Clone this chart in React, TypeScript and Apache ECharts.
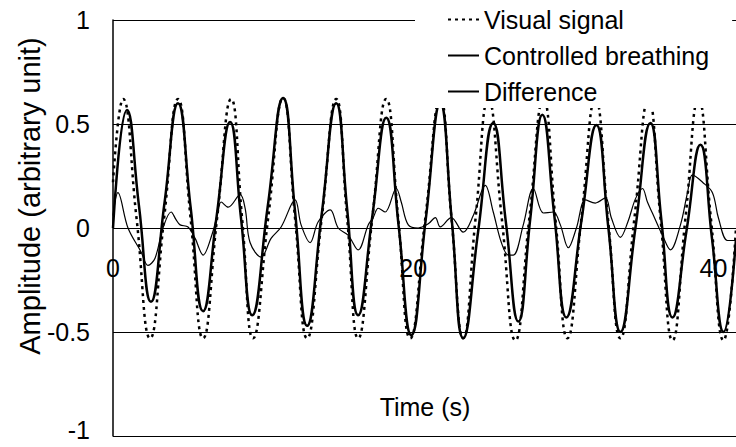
import React, { useEffect, useRef } from "react";
import * as echarts from "echarts";

// Visual signal (dotted)
const visualT = [0, 0.67, 1.57, 2.47, 3.4, 4.33, 5.17, 6.0, 6.93, 7.87, 8.6, 9.33, 10.33, 11.33, 12.13, 12.93, 13.9, 14.87, 15.6, 16.33, 17.27, 18.2, 19.0, 19.8, 20.8, 21.8, 22.55, 23.33, 24.15, 25.0, 25.9, 26.8, 27.73, 28.67, 29.47, 30.27, 31.2, 32.13, 32.97, 33.8, 34.73, 35.67, 36.47, 37.27, 38.13, 39.0, 39.83, 40.67, 41.5];
const visualV = [0.22, 0.62, 0.045, -0.53, 0.045, 0.62, 0.045, -0.53, 0.045, 0.62, 0.045, -0.53, 0.045, 0.625, 0.045, -0.53, 0.045, 0.62, 0.045, -0.53, 0.045, 0.62, 0.045, -0.53, 0.045, 0.62, 0.045, -0.53, 0.045, 0.62, 0.045, -0.54, 0.045, 0.62, 0.045, -0.53, 0.045, 0.62, 0.045, -0.53, 0.045, 0.62, 0.045, -0.54, 0.045, 0.62, 0.045, -0.54, 0.0];

// Controlled breathing (thick solid)
const breathT = [0, 0.93, 1.73, 2.53, 3.43, 4.33, 5.17, 6.0, 6.9, 7.8, 8.53, 9.27, 10.3, 11.33, 12.13, 12.93, 13.9, 14.87, 15.6, 16.33, 17.27, 18.2, 19.03, 19.87, 20.83, 21.8, 22.57, 23.33, 24.33, 25.33, 26.17, 27.0, 27.8, 28.6, 29.4, 30.2, 31.2, 32.2, 33.0, 33.8, 34.8, 35.8, 36.53, 37.27, 38.2, 39.13, 39.9, 40.67, 41.5];
const breathV = [0.0, 0.567, 0.106, -0.355, 0.12, 0.6, 0.1, -0.4, 0.055, 0.51, 0.045, -0.42, 0.1, 0.625, 0.078, -0.47, 0.065, 0.6, 0.09, -0.42, 0.055, 0.53, 0.008, -0.515, 0.04, 0.6, 0.035, -0.53, -0.013, 0.505, 0.028, -0.45, 0.048, 0.545, 0.058, -0.43, 0.033, 0.495, 0.0, -0.5, 0.0, 0.505, 0.038, -0.43, -0.015, 0.4, -0.05, -0.5, -0.05];

// Difference (thin solid)
const diffT = [0, 0.33, 1.0, 1.87, 2.33, 2.8, 3.33, 3.87, 4.2, 4.47, 5.0, 5.47, 6.0, 6.6, 7.0, 7.2, 7.67, 8.47, 8.8, 9.13, 9.87, 10.53, 11.2, 12.13, 12.53, 13.13, 13.67, 14.47, 15.0, 15.67, 16.33, 17.0, 17.33, 17.67, 18.13, 18.87, 19.2, 19.67, 20.33, 21.0, 21.47, 21.8, 22.53, 23.33, 24.0, 24.8, 25.33, 25.87, 26.33, 26.67, 27.33, 28.0, 28.67, 29.33, 29.8, 30.33, 30.87, 31.47, 32.13, 32.8, 33.2, 33.8, 34.3, 34.8, 35.27, 35.6, 35.93, 36.6, 37.13, 37.8, 38.27, 38.6, 39.27, 39.93, 40.33, 40.93, 41.5];
const diffV = [0.06, 0.17, 0.0, -0.115, -0.18, -0.145, 0.0, 0.077, 0.04, 0.015, 0.005, -0.05, -0.13, -0.03, 0.08, 0.125, 0.1, 0.16, 0.095, -0.07, -0.14, -0.05, 0.005, 0.135, 0.015, -0.07, 0.03, 0.087, 0.0, -0.035, -0.105, 0.015, 0.05, 0.095, 0.077, 0.19, 0.125, 0.015, 0.0, 0.02, 0.05, 0.005, 0.05, -0.02, 0.06, 0.205, 0.077, -0.07, -0.13, -0.13, 0.015, 0.19, 0.072, 0.077, 0.015, -0.095, 0.0, 0.135, 0.12, 0.145, 0.048, -0.045, 0.03, 0.14, 0.19, 0.125, 0.072, -0.035, -0.105, 0.015, 0.17, 0.255, 0.22, 0.17, 0.048, -0.06, -0.06];

const seriesNames = ["Visual signal", "Controlled breathing", "Difference"];
const xTicks = [0, 20, 40];
const yTicks = [-1, -0.5, 0, 0.5, 1];
const xTitle = "Time (s)";
const yTitle = "Amplitude (arbitrary unit)";

const FONT = "'Liberation Sans', Arial, Helvetica, sans-serif";

const zip = (t: number[], v: number[]) => t.map((x, i) => [x, v[i]]);

export default function App() {
  const ref = useRef<HTMLDivElement>(null);
  useEffect(() => {
    document.body.style.margin = "0";
    const chart = echarts.init(ref.current!, undefined, { renderer: "svg" });
    chart.setOption({
      animation: false,
      backgroundColor: "#fff",
      grid: { left: 113, right: 0, top: 20, bottom: 11, containLabel: false, outerBoundsMode: "none" },
      xAxis: {
        type: "value",
        min: 0,
        max: 41.5,
        interval: 20,
        position: "bottom",
        axisLine: { show: false, onZero: false },
        axisTick: { show: false },
        axisLabel: {
          margin: -181,
          color: "#000",
          fontSize: 25,
          fontFamily: FONT,
          lineHeight: 25,
          formatter: (v: number) => (xTicks.includes(v) ? String(v) : ""),
        },
        splitLine: { show: false },
      },
      yAxis: {
        type: "value",
        min: yTicks[0],
        max: yTicks[yTicks.length - 1],
        interval: 0.5,
        axisLine: { show: true, onZero: false, lineStyle: { color: "#000", width: 1.5 } },
        axisTick: { show: false },
        axisLabel: {
          margin: 23,
          color: "#000",
          fontSize: 25,
          fontFamily: FONT,
          lineHeight: 20,
          formatter: (v: number) => (v === yTicks[0] ? "{low|" + v + "}" : String(v)),
          rich: {
            low: { fontSize: 25, fontFamily: FONT, color: "#000", lineHeight: 20, padding: [0, 0, 12, 0] },
          },
        },
        splitLine: { show: true, lineStyle: { color: "#000", width: 1.2 } },
      },
      legend: {
        data: seriesNames,
        orient: "vertical",
        left: 415,
        top: 0,
        padding: [7, 23, 4, 32],
        backgroundColor: "#fff",
        itemWidth: 31,
        itemHeight: 14,
        itemGap: 11,
        selectedMode: false,
        itemStyle: { opacity: 0 },
        textStyle: { color: "#000", fontSize: 25, fontFamily: FONT, lineHeight: 25 },
      },
      graphic: [
        {
          type: "text",
          x: 425,
          y: 407,
          style: { text: xTitle, fill: "#000", fontSize: 25, fontFamily: FONT, align: "center", verticalAlign: "middle" },
        },
        {
          type: "text",
          x: 30,
          y: 196,
          rotation: Math.PI / 2,
          style: { text: yTitle, fill: "#000", fontSize: 29, fontFamily: FONT, align: "center", verticalAlign: "middle" },
        },
      ],
      series: [
        {
          name: seriesNames[0],
          type: "line",
          data: zip(visualT, visualV),
          smooth: 0.5,
          symbol: "none",
          itemStyle: { color: "#000" },
          lineStyle: { color: "#000", width: 2.5, type: [3, 4], cap: "butt" },
          z: 3,
        },
        {
          name: seriesNames[1],
          type: "line",
          data: zip(breathT, breathV),
          smooth: 0.5,
          symbol: "none",
          itemStyle: { color: "#000" },
          lineStyle: { color: "#000", width: 2.5, type: "solid" },
          z: 3,
        },
        {
          name: seriesNames[2],
          type: "line",
          data: zip(diffT, diffV),
          smooth: 0.35,
          symbol: "none",
          itemStyle: { color: "#000" },
          lineStyle: { color: "#000", width: 1.2, type: "solid" },
          z: 3,
        },
      ],
    });
    return () => chart.dispose();
  }, []);
  return <div ref={ref} style={{ width: 736, height: 447 }} />;
}
